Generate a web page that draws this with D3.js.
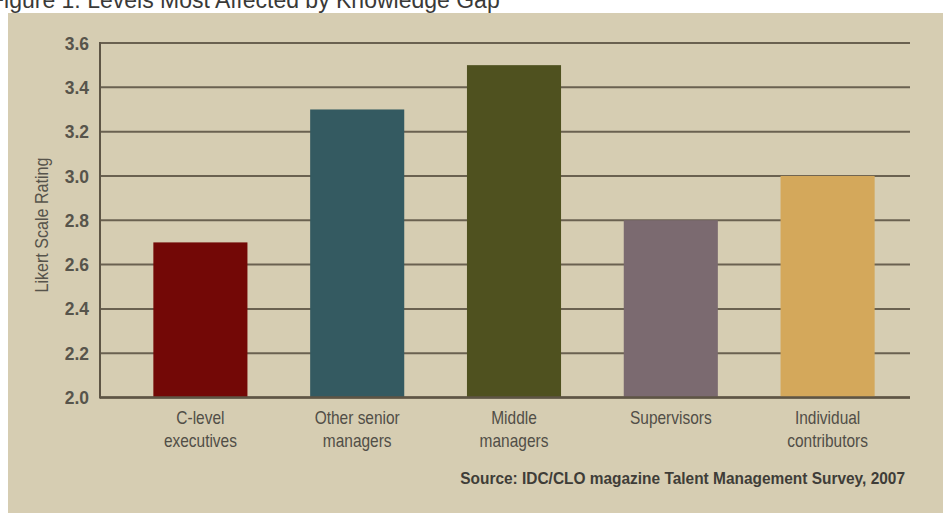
<!DOCTYPE html>
<html>
<head>
<meta charset="utf-8">
<script src="https://cdn.jsdelivr.net/npm/d3@7"></script>
<style>
  html, body { margin: 0; padding: 0; background: #ffffff; }
  svg { display: block; }
  text { font-family: "Liberation Sans", Arial, sans-serif; }
</style>
</head>
<body>
<svg id="chart" width="943" height="513"></svg>
<script>
// Survey results: ratings by organisational level
const categories = [
  ["C-level", "executives"],
  ["Other senior", "managers"],
  ["Middle", "managers"],
  ["Supervisors"],
  ["Individual", "contributors"]
];
const ratings = [2.7, 3.3, 3.5, 2.8, 3.0];
const barColors = ["#730806", "#345a61", "#4f511f", "#7b6a70", "#d4a85b"];
const yTicks = [2.0, 2.2, 2.4, 2.6, 2.8, 3.0, 3.2, 3.4, 3.6];

const svg = d3.select("#chart");
const W = 943, H = 513;

// squeeze a text horizontally so it spans the given width
function condense(sel, width, anchorX, anchorY) {
  const natural = sel.node().getComputedTextLength();
  const k = Math.min(1, width / natural);
  sel.attr("transform", `translate(${anchorX},${anchorY}) scale(${k},1)`);
}

// beige panel
svg.append("rect").attr("x", 8).attr("y", 13).attr("width", W - 8).attr("height", H - 13)
  .attr("fill", "#d6cdb2");

// title, running off the top edge of the page
const title = svg.append("text").attr("x", 0).attr("y", 0)
  .attr("font-size", 23).attr("fill", "#3a3a38")
  .text("Figure 1:  Levels Most Affected by Knowledge Gap");
condense(title, 510, -10, 8);

const axisX = 100, gridEnd = 910;
const y = d3.scaleLinear().domain([2.0, 3.6]).range([397.5, 43]);
const keys = categories.map((c, i) => i);
const x = d3.scaleBand().domain(keys).range([122, 906]).paddingInner(0.4).paddingOuter(0.2);

// gridlines
svg.append("g").selectAll("line").data(yTicks).join("line")
  .attr("x1", axisX).attr("x2", gridEnd)
  .attr("y1", d => y(d)).attr("y2", d => y(d))
  .attr("stroke", "#6a6150").attr("stroke-width", 2);

// tick labels via axis
const yAxis = svg.append("g").attr("transform", `translate(${axisX},0)`)
  .call(d3.axisLeft(y).tickValues(yTicks).tickFormat(d3.format(".1f")).tickSize(0).tickPadding(12));
yAxis.select(".domain").remove();
yAxis.selectAll("text")
  .attr("font-size", 19).attr("fill", "#57544b").attr("font-weight", "bold")
  .attr("transform", "scale(0.92,1)")
  .style("font-family", '"Liberation Sans", Arial, sans-serif');

// bars
svg.append("g").selectAll("rect").data(ratings).join("rect")
  .attr("x", (d, i) => x(i)).attr("width", x.bandwidth())
  .attr("y", d => y(d)).attr("height", d => y(2.0) - y(d))
  .attr("fill", (d, i) => barColors[i]);

// axis lines
svg.append("line").attr("x1", axisX).attr("x2", axisX).attr("y1", y(3.6) - 1).attr("y2", y(2.0) + 1)
  .attr("stroke", "#5e5545").attr("stroke-width", 2);
svg.append("line").attr("x1", axisX).attr("x2", gridEnd).attr("y1", y(2.0)).attr("y2", y(2.0))
  .attr("stroke", "#5e5545").attr("stroke-width", 2.5);

// category labels (condensed)
const lab = svg.append("g").selectAll("text").data(categories).join("text")
  .attr("text-anchor", "middle").attr("font-size", 18).attr("fill", "#514e47")
  .attr("transform", (d, i) => `translate(${x(i) + x.bandwidth() / 2},424) scale(0.86,1)`);
lab.selectAll("tspan").data(d => d).join("tspan")
  .attr("x", 0).attr("dy", (d, j) => j === 0 ? 0 : 23).text(d => d);

// y axis title
svg.append("text")
  .attr("transform", "translate(48,225) rotate(-90) scale(0.92,1)")
  .attr("text-anchor", "middle").attr("font-size", 17.5).attr("fill", "#57544b")
  .text("Likert Scale Rating");

// source note
const source = svg.append("text").attr("x", 0).attr("y", 0).attr("text-anchor", "end")
  .attr("font-size", 17).attr("fill", "#3f3d38").attr("font-weight", "bold")
  .text("Source: IDC/CLO magazine Talent Management Survey, 2007");
condense(source, 445, 905, 484);
</script>
</body>
</html>
